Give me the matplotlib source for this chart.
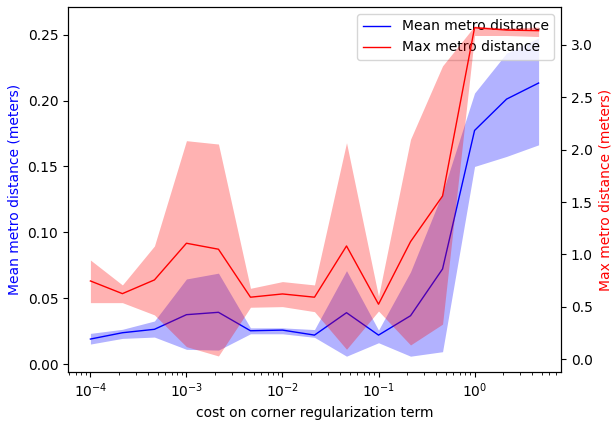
import matplotlib
matplotlib.use("Agg")
import matplotlib.pyplot as plt

costs = [1e-4, 2.154e-4, 4.642e-4, 1e-3, 2.154e-3, 4.642e-3, 1e-2, 2.154e-2,
         4.642e-2, 1e-1, 2.154e-1, 4.642e-1, 1.0, 2.154, 4.642]

mean_dist = [0.019, 0.0238, 0.0264, 0.0375, 0.0393, 0.0253, 0.0258, 0.022,
             0.039, 0.022, 0.0367, 0.0722, 0.1773, 0.2011, 0.2133]
mean_lo = [0.0152, 0.0195, 0.0205, 0.0112, 0.0106, 0.0230, 0.0230, 0.0203,
           0.006, 0.0162, 0.006, 0.0094, 0.150, 0.1576, 0.1664]
mean_hi = [0.0233, 0.0264, 0.0327, 0.0646, 0.069, 0.0275, 0.0275, 0.0262,
           0.0709, 0.0258, 0.070, 0.130, 0.2057, 0.236, 0.2475]

max_dist = [0.747, 0.626, 0.757, 1.107, 1.05, 0.592, 0.623, 0.592,
            1.081, 0.525, 1.122, 1.558, 3.164, 3.142, 3.136]
max_lo = [0.54, 0.54, 0.423, 0.12, 0.031, 0.496, 0.502, 0.454,
          0.095, 0.46, 0.136, 0.335, 3.09, 3.09, 3.08]
max_hi = [0.947, 0.709, 1.081, 2.086, 2.054, 0.677, 0.741, 0.709,
          2.067, 0.60, 2.099, 2.80, 3.18, 3.16, 3.17]

fig = plt.figure(figsize=(6.13, 4.24), dpi=100)
ax1 = fig.add_axes([68/613, 1-372/424, (561-68)/613, (372-7)/424])
ax2 = ax1.twinx()

l1, = ax1.plot(costs, mean_dist, color='b', lw=1, label='Mean metro distance')
ax1.fill_between(costs, mean_lo, mean_hi, color='b', alpha=0.3, lw=0)
l2, = ax2.plot(costs, max_dist, color='r', lw=1, label='Max metro distance')
ax2.fill_between(costs, max_lo, max_hi, color='r', alpha=0.3, lw=0)

ax1.set_xscale('log')
ax1.set_ylim(-0.006, 0.271)
ax2.set_ylim(-0.122, 3.362)
ax1.set_xlabel('cost on corner regularization term')
ax1.set_ylabel('Mean metro distance (meters)', color='b')
ax2.set_ylabel('Max metro distance (meters)', color='r')
ax1.legend(handles=[l1, l2], loc='upper right')

fig.savefig('out.png', dpi=100)
